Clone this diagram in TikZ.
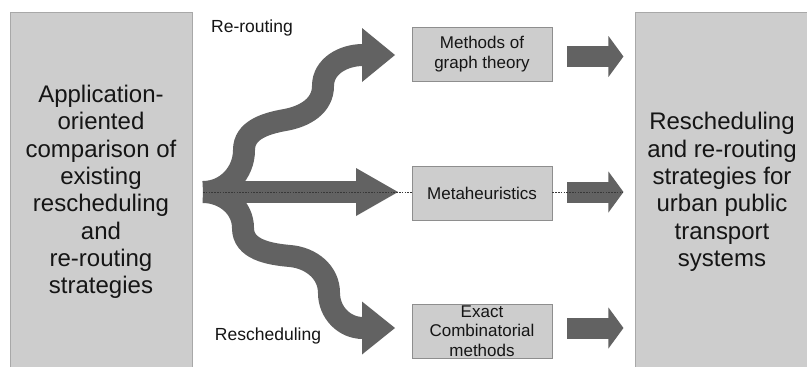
\documentclass[tikz,border=0pt]{standalone}
\usepackage{fontspec}
\setmainfont{Liberation Sans}
\usetikzlibrary{calc}
\definecolor{boxfill}{HTML}{CDCDCD}
\definecolor{boxedge}{HTML}{A8A8A8}
\definecolor{midedge}{HTML}{8E8E8E}
\definecolor{arrowgray}{HTML}{626262}
\definecolor{dotgray}{HTML}{383838}
\definecolor{textcol}{HTML}{151515}
\begin{document}
\begin{tikzpicture}[x=1pt,y=-1pt,
  bigbox/.style={draw=boxedge, fill=boxfill, line width=0.9pt, inner sep=0pt,
    minimum height=360pt, align=center, text=textcol,
    font=\fontsize{24}{27.3}\selectfont},
  midbox/.style={draw=midedge, fill=boxfill, line width=0.9pt, inner sep=0pt,
    minimum width=140pt, minimum height=54pt, align=center, text=textcol,
    font=\fontsize{17}{19.5}\selectfont},
  flow/.style={draw=arrowgray, line width=22pt},
  flowsmall/.style={draw=arrowgray, line width=21pt},
  tipfill/.style={fill=arrowgray},
  dotline/.style={draw=dotgray, line width=1pt, dash pattern=on 1.6pt off 1.2pt},
  lbl/.style={font=\fontsize{17.5}{20}\selectfont, text=textcol, inner sep=0pt}
]
\useasboundingbox (0,0) rectangle (807,367);
\clip (0,0) rectangle (807,367);
\fill[white] (0,0) rectangle (807,367);

% big boxes
\node[bigbox, minimum width=182pt] (src) at (101,192)
  {Application-\\oriented\\comparison of\\existing\\rescheduling\\and\\re-routing\\strategies};
\node[bigbox, minimum width=174pt] (dst) at (722,192)
  {Rescheduling\\and re-routing\\strategies for\\urban public\\transport\\systems};

% method boxes
\node[midbox] (m1) at (482,54) {Methods of\\graph theory};
\node[midbox] (m2) at (482,193) {Metaheuristics};
\node[midbox] (m3) at (482,331) {Exact\\Combinatorial\\methods};

% labels
\node[lbl] (lr) at (252,28) {Re-routing};
\node[lbl] (ls) at (268,336) {Rescheduling};

% junction and arrow ends
\coordinate (j) at (203,192);
\coordinate (h1) at (363,55);
\coordinate (h2) at (357,192);
\coordinate (h3) at (363,328);

% curved arrows
\draw[flow] (j) to[out=0,in=-90] (244,150) to[out=90,in=190] (285,120)
  to[out=10,in=-90] (323,86) to[out=90,in=180] (h1);
\fill[tipfill] ($(h1)+(-1,-27)$) -- ($(h1)+(32,0)$) -- ($(h1)+(-1,27)$) -- cycle;

\draw[flow] (j) to[out=0,in=90] (243,228) to[out=-90,in=175] (290,256)
  to[out=-5,in=90] (329,293) to[out=-90,in=180] (h3);
\fill[tipfill] ($(h3)+(-1,-26.5)$) -- ($(h3)+(32,0)$) -- ($(h3)+(-1,26.5)$) -- cycle;

\draw[flow] (j) -- (h2);
\fill[tipfill] ($(h2)+(-1,-24)$) -- ($(h2)+(41,0)$) -- ($(h2)+(-1,24)$) -- cycle;

% small arrows
\coordinate (s1) at ($(m1.east)+(15,2.5)$);
\coordinate (s2) at ($(m2.east)+(15,-1)$);
\coordinate (s3) at ($(m3.east)+(15,-3)$);
\foreach \s in {s1,s2,s3}{
  \draw[flowsmall] (\s) -- ($(\s)+(42,0)$);
  \fill[tipfill] ($(\s)+(41,-20.5)$) -- ($(\s)+(56,0)$) -- ($(\s)+(41,20.5)$) -- cycle;
}

% dotted line
\draw[dotline] (j) -- (m2.west |- j);
\draw[dotline] (m2.east |- s2) -- ($(s2)+(56,0)$);
\end{tikzpicture}
\end{document}
